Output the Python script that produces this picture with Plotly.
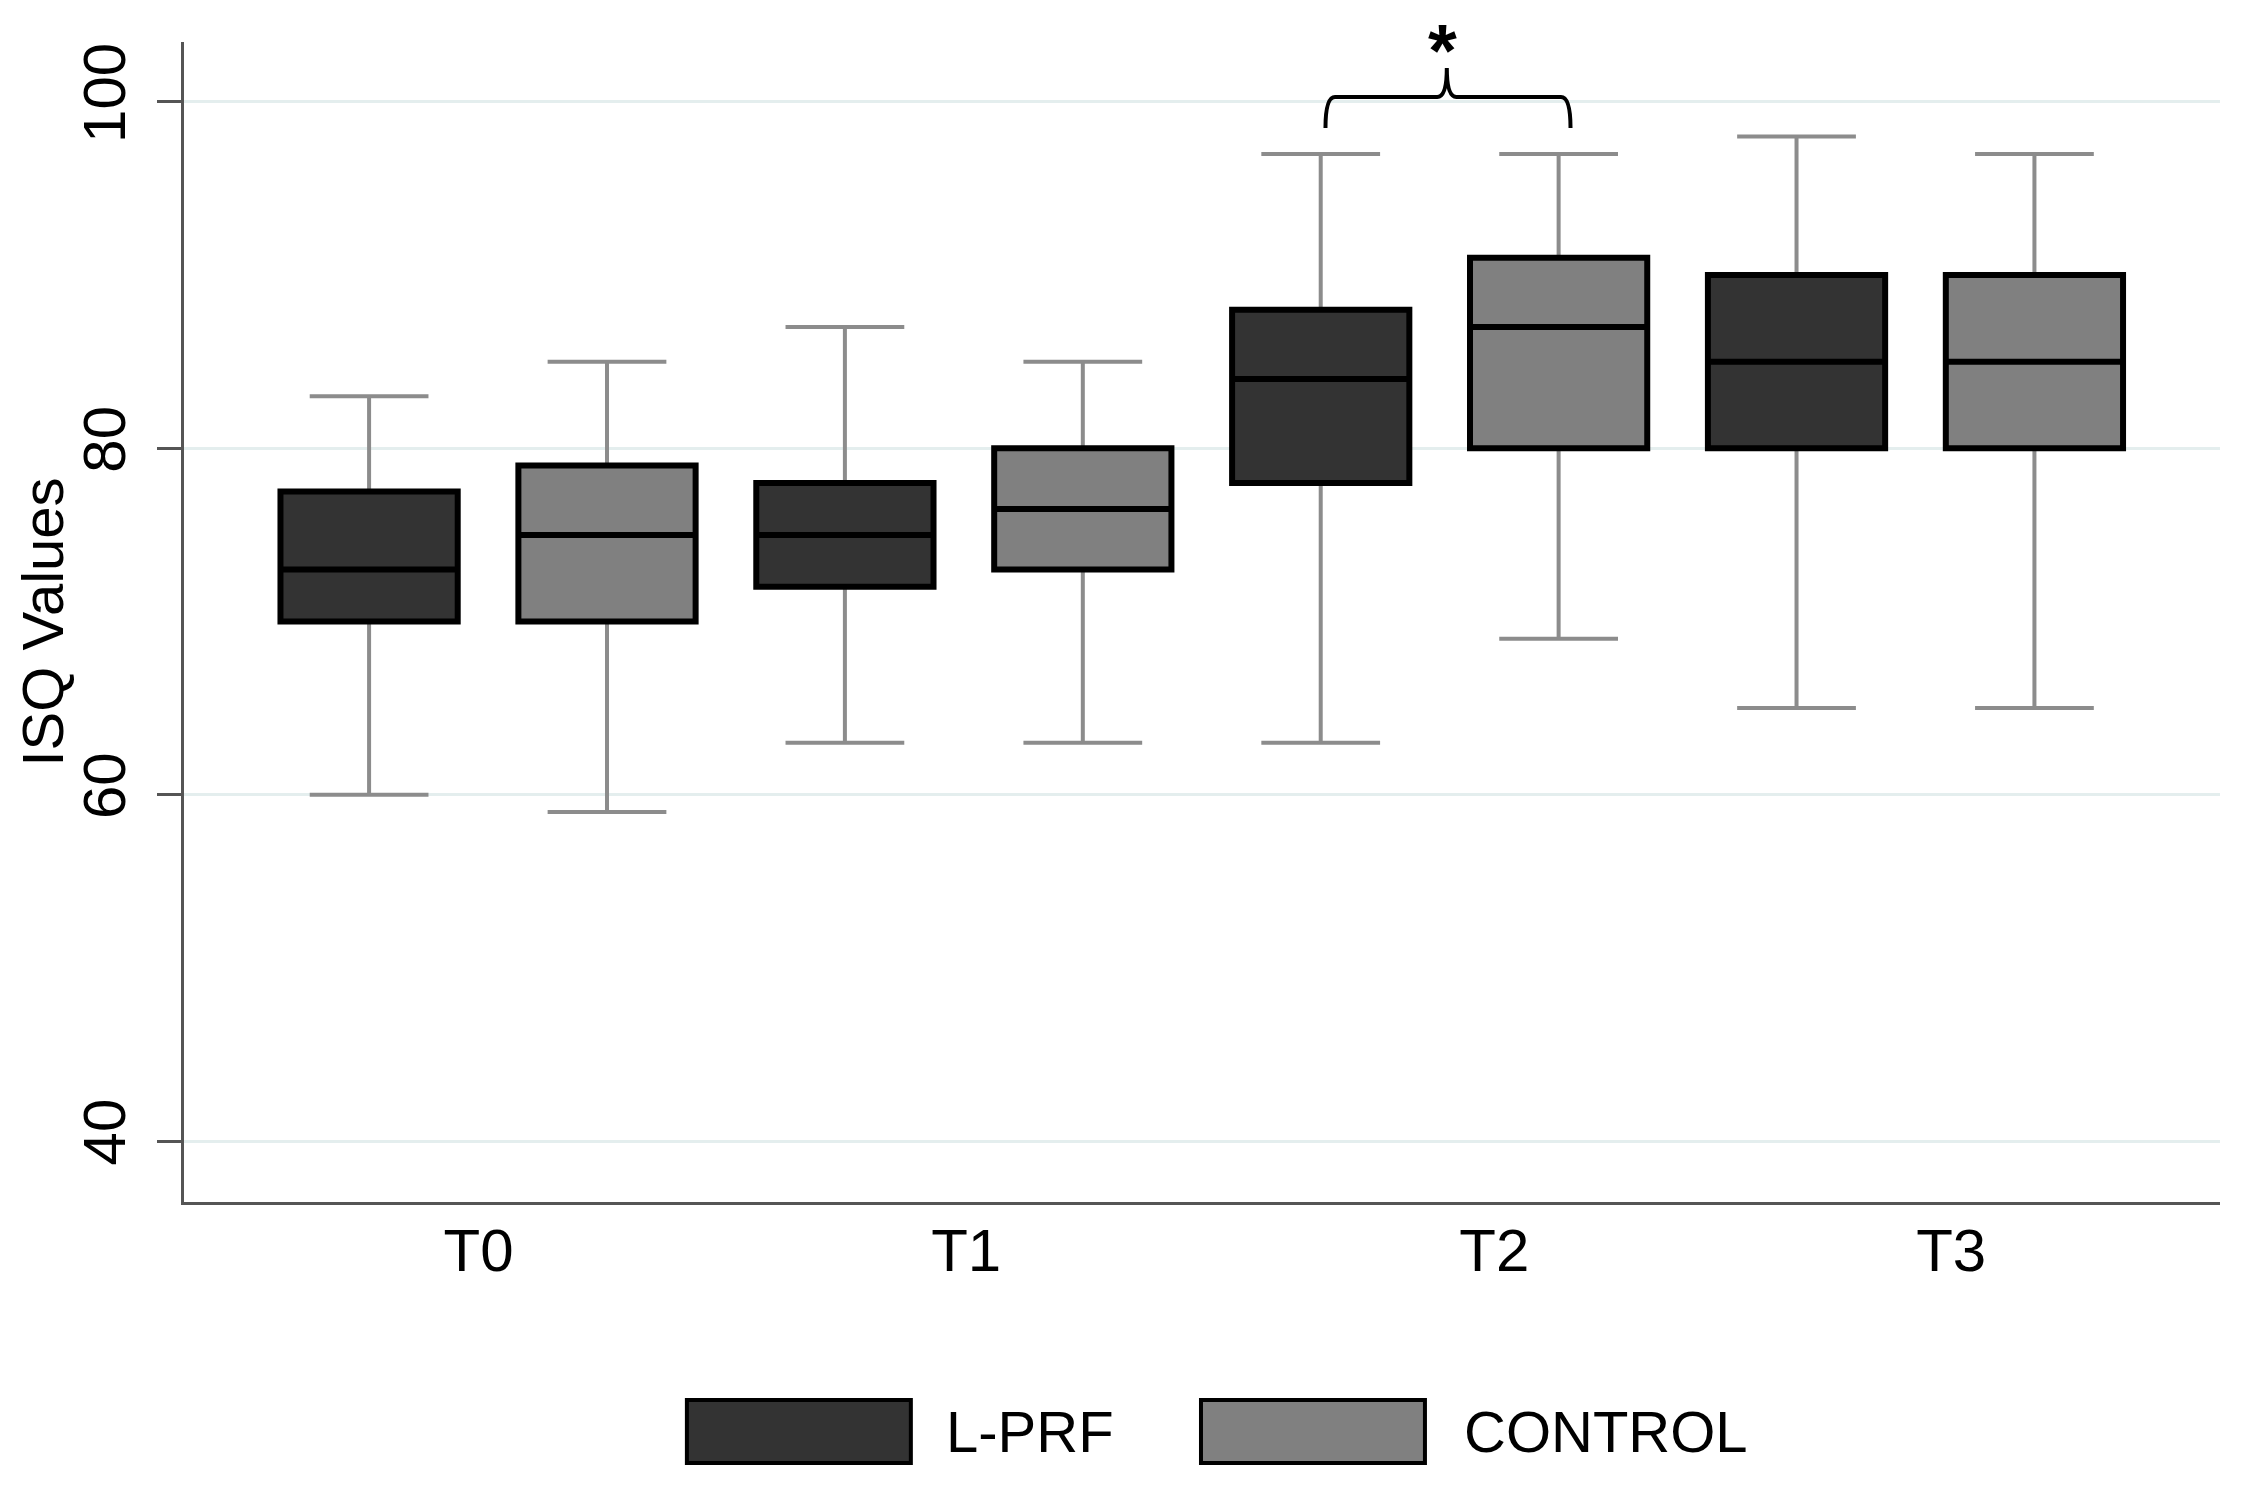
import plotly.graph_objects as go

# ---- data ----
timepoints = ["T0", "T1", "T2", "T3"]
groups = ["L-PRF", "CONTROL"]

lprf_lower = [60, 63, 63, 65]
lprf_q1 = [70, 72, 78, 80]
lprf_median = [73, 75, 84, 85]
lprf_q3 = [77.5, 78, 88, 90]
lprf_upper = [83, 87, 97, 98]

ctrl_lower = [59, 63, 69, 65]
ctrl_q1 = [70, 73, 80, 80]
ctrl_median = [75, 76.5, 87, 85]
ctrl_q3 = [79, 80, 91, 90]
ctrl_upper = [85, 85, 97, 97]

y_ticks = [40, 60, 80, 100]

# ---- style ----
FONT = "Liberation Sans, Arial, sans-serif"
fills = {"L-PRF": "#333333", "CONTROL": "#808080"}
whisker_color = "#8c8c8c"
box_width = 0.745
label_positions = [0.46, 2.51, 4.73, 6.65]

series = {
    "L-PRF": (lprf_lower, lprf_q1, lprf_median, lprf_q3, lprf_upper),
    "CONTROL": (ctrl_lower, ctrl_q1, ctrl_median, ctrl_q3, ctrl_upper),
}

fig = go.Figure()
for gi, g in enumerate(groups):
    lo, q1, med, q3, hi = series[g]
    xs = [ti * 2 + gi for ti in range(len(timepoints))]
    # whiskers (gray)
    fig.add_trace(go.Box(
        x=xs, q1=q1, median=med, q3=q3, lowerfence=lo, upperfence=hi,
        width=box_width, whiskerwidth=0.67, boxpoints=False,
        line=dict(color=whisker_color, width=4),
        fillcolor="rgba(0,0,0,0)", showlegend=False, hoverinfo="skip",
    ))
    # box body (black outline, filled)
    fig.add_trace(go.Box(
        x=xs, q1=q1, median=med, q3=q3, lowerfence=q1, upperfence=q3,
        width=box_width, whiskerwidth=0, boxpoints=False,
        line=dict(color="#000000", width=6),
        fillcolor=fills[g], name=g, showlegend=False,
    ))

# significance bracket over T2
x0, x1, xc = 4.02, 5.05, 4.53
yb, yh, yp = 98.5, 100.29, 101.96
r = 0.04
path = (f"M {x0},{yb} Q {x0},{yh} {x0 + r},{yh} L {xc - r},{yh} "
        f"Q {xc},{yh} {xc},{yp} Q {xc},{yh} {xc + r},{yh} "
        f"L {x1 - r},{yh} Q {x1},{yh} {x1},{yb}")
fig.add_shape(type="path", path=path, xref="x", yref="y",
              line=dict(color="black", width=4))
fig.add_annotation(x=xc - 0.02, y=102.95, xref="x", yref="y", text="<b>*</b>",
                   showarrow=False, font=dict(size=74, color="black", family=FONT),
                   yanchor="middle")

# y-axis title
fig.add_annotation(x=-0.0695, y=0.5, xref="paper", yref="paper", text="ISQ Values",
                   textangle=-90, showarrow=False, xanchor="center", yanchor="middle",
                   font=dict(size=58, color="black", family=FONT))

# manual legend
legend_items = [("L-PRF", 0.247, 0.357, 0.3733), ("CONTROL", 0.4995, 0.6095, 0.6277)]
for name, bx0, bx1, tx in legend_items:
    fig.add_shape(type="rect", xref="paper", yref="paper",
                  x0=bx0, x1=bx1, y0=-0.225, y1=-0.1707,
                  fillcolor=fills[name], line=dict(color="black", width=4))
    fig.add_annotation(x=tx, y=-0.198, xref="paper", yref="paper", text=name,
                       showarrow=False, xanchor="left", yanchor="middle",
                       font=dict(size=58, color="black", family=FONT))

fig.update_layout(
    width=2244, height=1485,
    margin=dict(l=176, r=32, t=34, b=291),
    paper_bgcolor="white", plot_bgcolor="white",
    boxmode="overlay",
    font=dict(family=FONT, color="black"),
    xaxis=dict(
        range=[-0.778, 7.78], tickmode="array", tickvals=label_positions,
        ticktext=timepoints, ticks="", showgrid=False, zeroline=False,
        showline=True, linecolor="#555555", linewidth=3,
        tickfont=dict(size=60, color="black", family=FONT),
        ticklabelstandoff=-6,
    ),
    yaxis=dict(
        range=[36.48, 103.46], tickmode="array", tickvals=y_ticks,
        ticks="outside", ticklen=24, tickwidth=3, tickcolor="#555555",
        showline=True, linecolor="#555555", linewidth=3,
        showgrid=True, gridcolor="#e4eeee", gridwidth=3, zeroline=False,
        tickangle=-90, tickfont=dict(size=60, color="black", family=FONT),
        ticklabelstandoff=8,
    ),
)

fig.write_html("out.html")
